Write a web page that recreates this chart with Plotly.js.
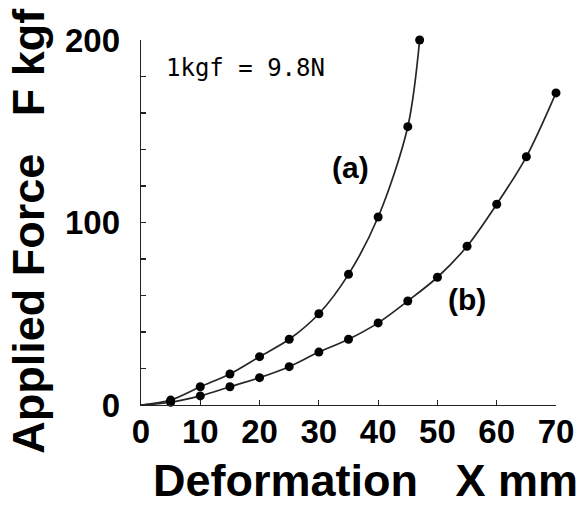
<!DOCTYPE html>
<html>
<head>
<meta charset="utf-8">
<script src="https://cdn.plot.ly/plotly-3.0.1.min.js"></script>
<style>
  html, body { margin: 0; padding: 0; background: #fff; }
  #chart { width: 577px; height: 505px; }
</style>
</head>
<body>
<div id="chart"></div>
<script>
// Load–deformation measurements for the two specimens
const deformA = [5, 10, 15, 20, 25, 30, 35, 40, 45, 47];
const forceA  = [2.7, 10, 17, 26.5, 36, 50, 71.6, 103, 152.5, 200];

const deformB = [5, 10, 15, 20, 25, 30, 35, 40, 45, 50, 55, 60, 65, 70];
const forceB  = [1.5, 5, 10, 15, 21, 29, 36, 45, 57, 70, 87, 110, 136, 171];

// Both curves leave the origin
const origin = [0];

const xTickVals = [0, 10, 20, 30, 40, 50, 60, 70];
const yTickVals = [0, 100, 200];

const boldFace = '"Liberation Sans", Arial, sans-serif';

function curve(xs, ys) {
  return {
    x: origin.concat(xs), y: origin.concat(ys),
    mode: 'lines', type: 'scatter',
    line: { color: '#262626', width: 1.7, shape: 'spline', smoothing: 0.9 },
    cliponaxis: false, hoverinfo: 'skip', showlegend: false
  };
}
function dots(xs, ys) {
  return {
    x: xs, y: ys, mode: 'markers', type: 'scatter',
    marker: { color: '#000', size: 9 }, cliponaxis: false, showlegend: false
  };
}

const data = [curve(deformA, forceA), curve(deformB, forceB), dots(deformA, forceA), dots(deformB, forceB)];

const tickFont = { family: boldFace, size: 33, color: '#000', weight: 'bold' };

const layout = {
  width: 577, height: 505,
  margin: { l: 141, r: 21, t: 40, b: 100 },
  paper_bgcolor: '#fff', plot_bgcolor: '#fff',
  showlegend: false,
  xaxis: {
    range: [0, 70], tickvals: xTickVals,
    ticks: 'inside', ticklen: 5, tickwidth: 1.2, tickcolor: '#222',
    showline: true, linecolor: '#222', linewidth: 1.4,
    showgrid: false, zeroline: false,
    ticklabelstandoff: -3, ticklabeloverflow: 'allow',
    tickfont: tickFont
  },
  yaxis: {
    range: [0, 200], tickvals: yTickVals,
    ticks: 'inside', ticklen: 5, tickwidth: 1.2, tickcolor: '#222',
    minor: { dtick: 20, ticks: 'inside', ticklen: 5, tickwidth: 1.2, tickcolor: '#222', showgrid: false },
    showline: true, linecolor: '#222', linewidth: 1.4,
    showgrid: false, zeroline: false,
    ticklabelstandoff: 13, ticklabeloverflow: 'allow',
    tickfont: tickFont
  },
  annotations: [
    { xref: 'paper', yref: 'paper', x: 0.542, y: -0.2055, xanchor: 'center', yanchor: 'middle',
      text: 'Deformation\u00a0\u00a0\u00a0X mm', showarrow: false,
      font: { family: boldFace, size: 45, color: '#000', weight: 'bold' } },
    { xref: 'paper', yref: 'paper', x: -0.27, y: 0.477, xanchor: 'center', yanchor: 'middle',
      textangle: -90, text: 'Applied Force\u00a0\u00a0\u00a0F kgf', showarrow: false,
      font: { family: boldFace, size: 45, color: '#000', weight: 'bold' } },
    { x: 17.7, y: 184.7, xanchor: 'center', yanchor: 'middle', showarrow: false,
      text: '1kgf = 9.8N',
      font: { family: '"DejaVu Sans Mono", monospace', size: 24, color: '#000' } },
    { x: 35.4, y: 130.4, xanchor: 'center', yanchor: 'middle', showarrow: false,
      text: '(a)', font: { family: boldFace, size: 30, color: '#000', weight: 'bold' } },
    { x: 55, y: 58, xanchor: 'center', yanchor: 'middle', showarrow: false,
      text: '(b)', font: { family: boldFace, size: 30, color: '#000', weight: 'bold' } }
  ]
};

Plotly.newPlot('chart', data, layout, { staticPlot: true, displayModeBar: false });
</script>
</body>
</html>
